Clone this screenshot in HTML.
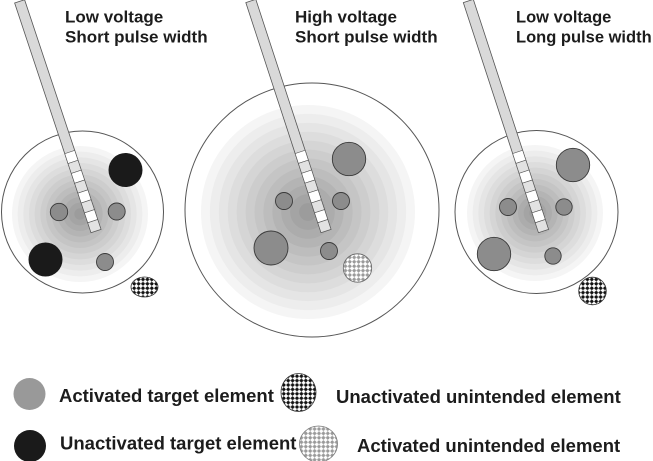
<!DOCTYPE html>
<html><head><meta charset="utf-8"><style>
html,body{margin:0;padding:0;background:#fff;}
svg{display:block;}
text{font-family:"Liberation Sans",Arial,sans-serif;font-weight:bold;fill:#1c1c1c;}
</style></head><body>
<svg width="653" height="461" viewBox="0 0 653 461" xmlns="http://www.w3.org/2000/svg">
<defs>
<pattern id="chk" patternUnits="userSpaceOnUse" width="4.4" height="4.4">
<rect width="4.4" height="4.4" fill="#fff"/>
<circle cx="2.2" cy="2.2" r="1.55" fill="#111"/>
<rect x="1.95" y="0" width="0.5" height="4.4" fill="#111"/>
<rect x="0" y="1.95" width="4.4" height="0.5" fill="#111"/>
</pattern>
<pattern id="chkl" patternUnits="userSpaceOnUse" width="4.4" height="4.4">
<rect width="4.4" height="4.4" fill="#fff"/>
<circle cx="2.2" cy="2.2" r="1.55" fill="#9a9a9a"/>
<rect x="1.95" y="0" width="0.5" height="4.4" fill="#9a9a9a"/>
<rect x="0" y="1.95" width="4.4" height="0.5" fill="#9a9a9a"/>
</pattern>
<g id="rings">
<circle r="100" fill="rgb(245,245,245)"/>
<circle r="91.7" fill="rgb(237,237,237)"/>
<circle r="83.3" fill="rgb(229,229,229)"/>
<circle r="75" fill="rgb(221,221,221)"/>
<circle r="66.7" fill="rgb(213,213,213)"/>
<circle r="58.3" fill="rgb(205,205,205)"/>
<circle r="50" fill="rgb(197,197,197)"/>
<circle r="41.7" fill="rgb(189,189,189)"/>
<circle r="33.3" fill="rgb(180,180,180)"/>
<circle r="25" fill="rgb(172,172,172)"/>
<circle r="16.7" fill="rgb(164,164,164)"/>
<circle r="8.3" fill="rgb(156,156,156)"/>
</g>
<g id="probe">
<rect x="-5.25" y="-242" width="10.5" height="242" fill="#d9d9d9" stroke="#555" stroke-width="0.8"/>
<rect x="-5.25" y="-83.2" width="10.5" height="10.4" fill="#fff" stroke="#555" stroke-width="0.6"/>
<rect x="-5.25" y="-72.8" width="10.5" height="10.4" fill="#e2e2e2" stroke="#555" stroke-width="0.6"/>
<rect x="-5.25" y="-62.4" width="10.5" height="10.4" fill="#fff" stroke="#555" stroke-width="0.6"/>
<rect x="-5.25" y="-52" width="10.5" height="10.4" fill="#e2e2e2" stroke="#555" stroke-width="0.6"/>
<rect x="-5.25" y="-41.6" width="10.5" height="10.4" fill="#fff" stroke="#555" stroke-width="0.6"/>
<rect x="-5.25" y="-31.2" width="10.5" height="10.4" fill="#e2e2e2" stroke="#555" stroke-width="0.6"/>
<rect x="-5.25" y="-20.8" width="10.5" height="10.4" fill="#fff" stroke="#555" stroke-width="0.6"/>
<rect x="-5.25" y="-10.4" width="10.5" height="10.4" fill="#e2e2e2" stroke="#555" stroke-width="0.6"/>
</g>
</defs>

<!-- Titles -->
<text x="65" y="22.5" font-size="17">Low voltage</text>
<text x="65" y="42.5" font-size="17">Short pulse width</text>
<text x="295" y="22.5" font-size="17">High voltage</text>
<text x="295" y="42.5" font-size="17">Short pulse width</text>
<text x="516" y="22.5" font-size="16.5">Low voltage</text>
<text x="516" y="42.5" font-size="16.5">Long pulse width</text>

<!-- Panel 1 -->
<circle cx="82.5" cy="212" r="81" fill="#fff" stroke="#555" stroke-width="1"/>
<use href="#rings" transform="translate(80,214) scale(0.68)"/>
<circle cx="125.5" cy="170" r="17" fill="#1a1a1a"/>
<circle cx="45.5" cy="259.5" r="17" fill="#1a1a1a"/>
<circle cx="59" cy="212" r="8.7" fill="#8c8c8c" stroke="#3a3a3a" stroke-width="0.9"/>
<circle cx="116.7" cy="211.5" r="8.5" fill="#8c8c8c" stroke="#3a3a3a" stroke-width="0.9"/>
<circle cx="105" cy="262" r="8.5" fill="#8c8c8c" stroke="#3a3a3a" stroke-width="0.9"/>
<ellipse cx="144.5" cy="287" rx="13.5" ry="10" fill="url(#chk)" stroke="#333" stroke-width="0.8"/>
<use href="#probe" transform="translate(96,231) rotate(-18.4)"/>

<!-- Panel 2 -->
<circle cx="312" cy="210" r="127" fill="#fff" stroke="#555" stroke-width="1"/>
<use href="#rings" transform="translate(308,212) scale(1.07)"/>
<circle cx="349" cy="159" r="16.7" fill="#8c8c8c" stroke="#3a3a3a" stroke-width="0.9"/>
<circle cx="284" cy="201" r="8.5" fill="#8c8c8c" stroke="#3a3a3a" stroke-width="0.9"/>
<circle cx="341" cy="201" r="8.5" fill="#8c8c8c" stroke="#3a3a3a" stroke-width="0.9"/>
<circle cx="271" cy="248" r="17" fill="#8c8c8c" stroke="#3a3a3a" stroke-width="0.9"/>
<circle cx="329" cy="251" r="8.5" fill="#8c8c8c" stroke="#3a3a3a" stroke-width="0.9"/>
<circle cx="357.5" cy="268" r="14.2" fill="url(#chkl)" stroke="#666" stroke-width="0.8"/>
<use href="#probe" transform="translate(326,231) rotate(-18.1)"/>

<!-- Panel 3 -->
<circle cx="536.5" cy="212" r="81.5" fill="#fff" stroke="#555" stroke-width="1"/>
<use href="#rings" transform="translate(535,213) scale(0.68)"/>
<circle cx="573" cy="165" r="16.7" fill="#8c8c8c" stroke="#3a3a3a" stroke-width="0.9"/>
<circle cx="508" cy="207" r="8.5" fill="#8c8c8c" stroke="#3a3a3a" stroke-width="0.9"/>
<circle cx="564" cy="207" r="8.2" fill="#8c8c8c" stroke="#3a3a3a" stroke-width="0.9"/>
<circle cx="494" cy="254" r="16.7" fill="#8c8c8c" stroke="#3a3a3a" stroke-width="0.9"/>
<circle cx="553" cy="256" r="8.2" fill="#8c8c8c" stroke="#3a3a3a" stroke-width="0.9"/>
<circle cx="592.5" cy="291" r="13.8" fill="url(#chk)" stroke="#333" stroke-width="0.8"/>
<use href="#probe" transform="translate(543.5,231) rotate(-18.1)"/>

<!-- Legend -->
<circle cx="29.5" cy="394" r="16" fill="#999"/>
<text x="59" y="402" font-size="18.5">Activated target element</text>
<ellipse cx="298.5" cy="392.5" rx="17.5" ry="19" fill="url(#chk)" stroke="#333" stroke-width="0.8"/>
<text x="336" y="403" font-size="18.5">Unactivated unintended element</text>

<circle cx="30" cy="446" r="16" fill="#1a1a1a"/>
<text x="60" y="449.5" font-size="18.5">Unactivated target element</text>
<ellipse cx="318.5" cy="444" rx="19" ry="18" fill="url(#chkl)" stroke="#777" stroke-width="0.8"/>
<text x="357" y="452" font-size="18.5">Activated unintended element</text>
</svg>
</body></html>
